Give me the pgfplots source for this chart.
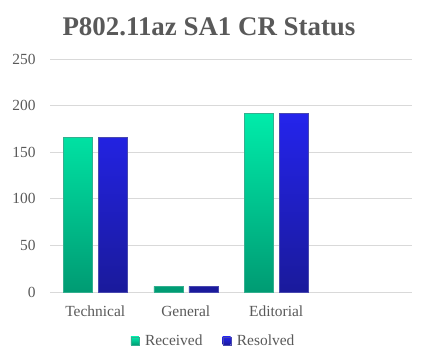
\documentclass[border=0pt]{standalone}
\usepackage{pgfplots}
\pgfplotsset{compat=1.18}
\usepackage{fontspec}
\setmainfont{Liberation Serif}
\definecolor{txtgray}{HTML}{595959}
\definecolor{gridgray}{HTML}{D9D9D9}
\definecolor{recTop}{RGB}{0,236,170}
\definecolor{recBot}{RGB}{0,155,115}
\definecolor{resTop}{RGB}{36,36,236}
\definecolor{resBot}{RGB}{26,26,155}
\begin{document}
\begin{tikzpicture}
\path[use as bounding box] (0,0) rectangle (421bp,361bp);
\node[anchor=base, font=\fontsize{27}{30}\selectfont\bfseries, text=txtgray, inner sep=0pt] at (209bp,325bp) {P802.11az SA1 CR Status};
\begin{axis}[
  at={(50bp,69bp)}, anchor=south west,
  scale only axis, width=362bp, height=233bp,
  xmin=-0.5, xmax=3.5, ymin=0, ymax=250,
  ytick={0,50,100,150,200,250},
  xtick={0,1,2}, xticklabels={Technical,General,Editorial},
  /pgf/number format/assume math mode=true,
  tick label style={font=\fontsize{15.5}{18}\selectfont, text=txtgray},
  major tick length=0pt,
  ymajorgrids, grid style={gridgray, line width=1pt},
  axis line style={draw=none},
  axis x line*=bottom, axis y line*=left,
  yticklabel style={xshift=-11bp},
  xticklabel style={yshift=-10bp},
  ybar=6bp, bar width=29bp,
  legend columns=2,
  legend style={at={(0.449,-0.21)}, anchor=center, draw=none, fill=none,
    font=\fontsize{15.5}{18}\selectfont, text=txtgray},
  legend image code/.code={\path[#1] (0bp,-4bp) rectangle (8bp,4bp); \path (-2bp,0) (12bp,0);},
  clip=false,
]
\draw[gridgray, line width=1pt] (axis cs:-0.5,0) -- (axis cs:3.5,0);
\addplot[draw=recBot!80!white, line width=0.4pt, top color=recTop, bottom color=recBot] coordinates {(0,166) (1,6) (2,192)};
\addplot[draw=resBot!80!white, line width=0.4pt, top color=resTop, bottom color=resBot] coordinates {(0,166) (1,6) (2,192)};
\legend{Received\rule{16bp}{0pt},Resolved}
\end{axis}
\end{tikzpicture}
\end{document}
